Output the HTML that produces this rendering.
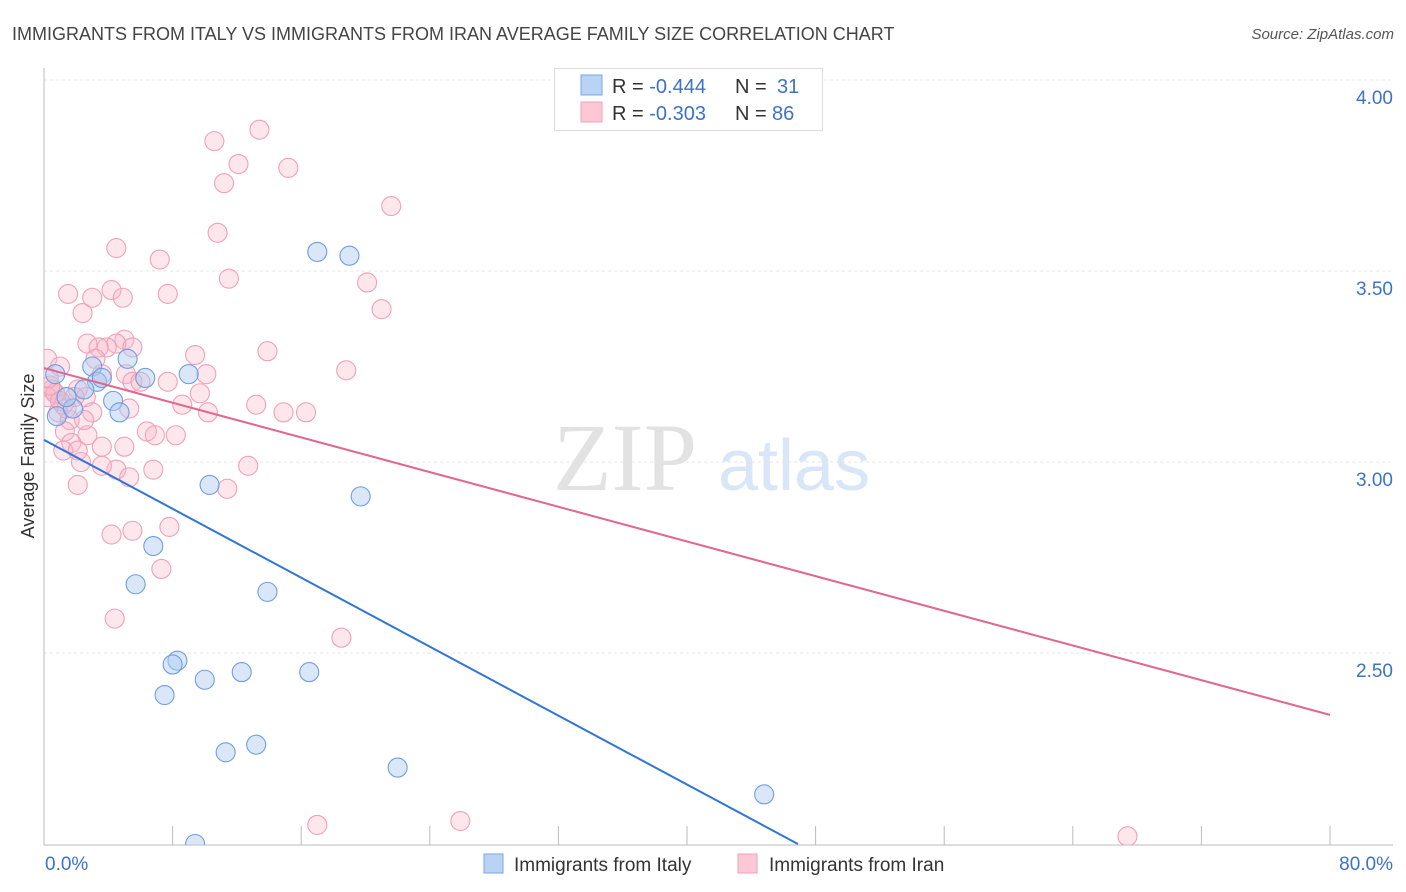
<!DOCTYPE html>
<html><head><meta charset="utf-8"><style>
body{margin:0;background:#fff;font-family:"Liberation Sans",sans-serif;}
svg{display:block}
</style></head><body>
<svg id="chart" width="1406" height="892" xmlns="http://www.w3.org/2000/svg">
<text x="12" y="40" font-size="18" fill="#444">IMMIGRANTS FROM ITALY VS IMMIGRANTS FROM IRAN AVERAGE FAMILY SIZE CORRELATION CHART</text>
<text x="1394" y="39" font-size="15" fill="#555" font-style="italic" text-anchor="end">Source: ZipAtlas.com</text>
<g>
<text x="553" y="490" font-size="96" fill="#e2e2e2" font-family="Liberation Serif,serif">ZIP</text>
<text x="718" y="490" font-size="72" fill="#d8e6f7">atlas</text>
</g>
<text transform="translate(34,456) rotate(-90)" font-size="18" fill="#333" text-anchor="middle">Average Family Size</text>
<g id="grid"></g>
<g id="axes"></g>
<g id="pts"></g>
<g id="lines"></g>
<g>
<rect x="554.5" y="68.5" width="268" height="62" fill="#fff" stroke="#ddd"/>
<rect x="581" y="75" width="21" height="20" fill="#b8d3f4" stroke="#7aa6e0"/>
<rect x="581" y="102" width="21" height="20" fill="#fcc8d6" stroke="#f0a0b8"/>
<text x="612" y="93" font-size="20" fill="#333">R = <tspan fill="#3b73c9">-0.444</tspan></text>
<text x="735" y="93" font-size="20" fill="#333">N = <tspan x="777" fill="#3b73c9">31</tspan></text>
<text x="612" y="120" font-size="20" fill="#333">R = <tspan fill="#3b73c9">-0.303</tspan></text>
<text x="735" y="120" font-size="20" fill="#333">N = <tspan x="772" fill="#3b73c9">86</tspan></text>
</g>
<g>
<rect x="484" y="854" width="19" height="19" fill="#b8d3f4" stroke="#7aa6e0"/>
<text x="514" y="871" font-size="19" fill="#333">Immigrants from Italy</text>
<rect x="738" y="854" width="19" height="19" fill="#fcc8d6" stroke="#f0a0b8"/>
<text x="769" y="871" font-size="19" fill="#333">Immigrants from Iran</text>
</g>
</svg>
<script>
const yTicks=[4.0,3.5,3.0,2.5];
const yTickLabels=["4.00","3.50","3.00","2.50"];
const xTickValues=[8,16,24,32,40,48,56,64,72,80];
const xEndLabels=["0.0%","80.0%"];
const italyX=[0.7,0.8,1.8,1.4,3.0,3.3,3.6,4.3,4.7,5.2,6.3,9.0,17.0,19.0,10.3,19.7,6.8,5.7,13.9,8.3,8.0,10.0,12.3,16.5,7.5,11.3,13.2,22.0,44.8,9.4,2.5];
const italyY=[3.23,3.12,3.14,3.17,3.25,3.21,3.22,3.16,3.13,3.27,3.22,3.23,3.55,3.54,2.94,2.91,2.78,2.68,2.66,2.48,2.47,2.43,2.45,2.45,2.39,2.24,2.26,2.20,2.13,2.00,3.19];
const iranX=[13.4,10.6,12.1,15.2,11.2,21.6,10.8,4.5,7.2,11.5,20.1,1.5,4.2,7.7,3.0,4.9,2.4,21.0,5.0,2.7,4.5,3.9,3.4,5.5,13.9,9.4,0.2,1.0,18.8,10.1,5.1,3.6,7.7,5.5,0.5,2.1,0.7,2.6,1.2,0.2,8.6,13.2,5.3,10.2,14.9,16.3,3.0,0.9,1.6,6.4,6.9,8.2,2.7,1.3,1.7,3.6,5.0,1.2,2.1,2.3,4.5,3.6,6.8,12.7,5.3,2.1,11.4,7.8,4.2,5.5,7.3,4.4,18.5,17.0,25.9,67.4,0.7,1.0,0.4,1.4,1.9,3.2,6.0,9.7,2.5,0.3];
const iranY=[3.87,3.84,3.78,3.77,3.73,3.67,3.60,3.56,3.53,3.48,3.47,3.44,3.45,3.44,3.43,3.43,3.39,3.40,3.32,3.31,3.31,3.30,3.30,3.30,3.29,3.28,3.27,3.25,3.24,3.23,3.23,3.23,3.21,3.21,3.19,3.19,3.18,3.17,3.15,3.17,3.15,3.15,3.14,3.13,3.13,3.13,3.13,3.13,3.11,3.08,3.07,3.07,3.07,3.08,3.05,3.04,3.04,3.03,3.03,3.00,2.98,2.99,2.98,2.99,2.96,2.94,2.93,2.83,2.81,2.82,2.72,2.59,2.54,2.05,2.06,2.02,3.18,3.16,3.20,3.14,3.17,3.27,3.21,3.18,3.11,3.22];
const italyTrend=[[0,3.058],[46.9,2.0]];
const iranTrend=[[0,3.246],[80,2.338]];
const NS="http://www.w3.org/2000/svg";
const X0=44,X1=1330,Y0=80,Y1=845;
function sx(v){return X0+(v/80)*(X1-X0);}
function sy(v){return Y0+(4.0-v)*(653-80)/1.5;}
function mk(tag,attrs,parent){const e=document.createElementNS(NS,tag);for(const k in attrs)e.setAttribute(k,attrs[k]);parent.appendChild(e);return e;}
const grid=document.getElementById('grid'),axes=document.getElementById('axes'),pts=document.getElementById('pts'),lines=document.getElementById('lines');
yTicks.forEach((t,i)=>{
 const l=mk('line',{x1:X0,x2:1393,y1:sy(t),y2:sy(t),stroke:'#e4e4e4','stroke-dasharray':'3,3'},grid);
 
 
 const tx=mk('text',{x:1393,y:sy(t)+24,'font-size':19,fill:'#3b73c9','text-anchor':'end'},axes);
 tx.textContent=yTickLabels[i];
 
 
});
const ya=mk('line',{x1:X0,x2:X0,y1:68,y2:Y1,stroke:'#bbb'},axes);


const xa=mk('line',{x1:X0,x2:1393,y1:Y1,y2:Y1,stroke:'#bbb'},axes);


xTickValues.forEach(v=>{
 const t=mk('line',{x1:sx(v),x2:sx(v),y1:826,y2:Y1,stroke:'#bbb'},axes);
 
 
});
const xl0=mk('text',{x:45,y:870,'font-size':19,fill:'#3b73c9'},axes);xl0.textContent=xEndLabels[0];


const xl1=mk('text',{x:1393,y:870,'font-size':19,fill:'#3b73c9','text-anchor':'end'},axes);xl1.textContent=xEndLabels[1];


const defs=mk('defs',{},document.getElementById('chart'));
const cp=mk('clipPath',{id:'clip'},defs);mk('rect',{x:X0,y:60,width:1360,height:Y1-60},cp);
pts.setAttribute('clip-path','url(#clip)');
iranX.forEach((x,i)=>{
 const c=mk('circle',{cx:sx(x),cy:sy(iranY[i]),r:9.5,fill:'rgba(248,180,200,0.32)',stroke:'#f0a0b8','stroke-width':1.1},pts);
 
 
});
italyX.forEach((x,i)=>{
 const c=mk('circle',{cx:sx(x),cy:sy(italyY[i]),r:9.5,fill:'rgba(170,202,242,0.45)',stroke:'#6f9ee0','stroke-width':1.1},pts);
 
 
});
const bl=mk('line',{x1:sx(italyTrend[0][0]),y1:sy(italyTrend[0][1]),x2:sx(italyTrend[1][0]),y2:sy(italyTrend[1][1]),stroke:'#2f74d6','stroke-width':2},lines);


const pl=mk('line',{x1:sx(iranTrend[0][0]),y1:sy(iranTrend[0][1]),x2:sx(iranTrend[1][0]),y2:sy(iranTrend[1][1]),stroke:'#e2668f','stroke-width':2},lines);


</script>
</body></html>
